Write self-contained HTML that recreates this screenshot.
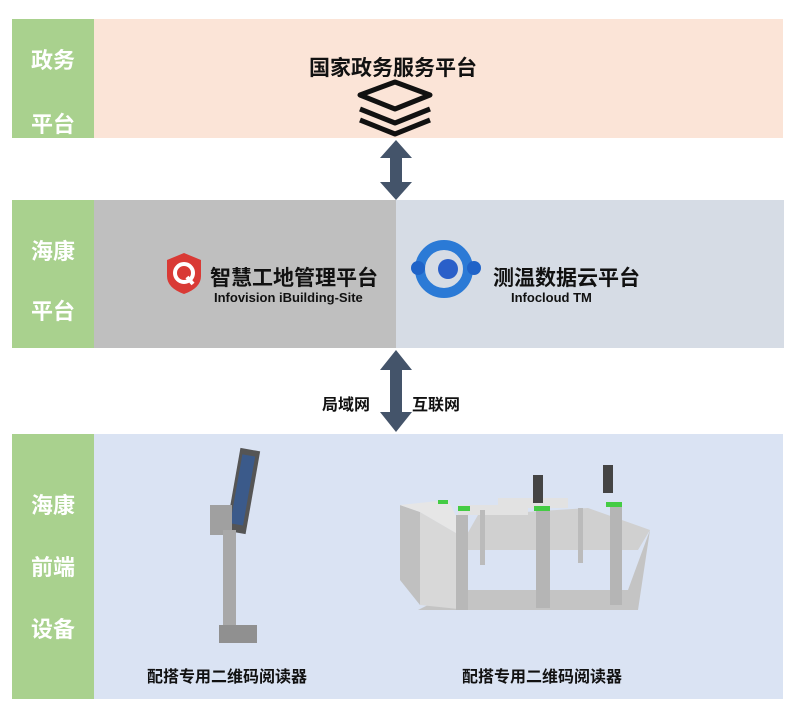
<!DOCTYPE html>
<html><head><meta charset="utf-8"><style>
body{margin:0;width:800px;height:721px;background:#fff;position:relative;overflow:hidden;font-family:"Liberation Sans","Noto Sans CJK SC",sans-serif}
.a{position:absolute}
.lab{position:absolute;left:12px;width:82px;background:#a9d18e;color:#fff;font-weight:bold;font-size:22px;text-align:center}
.lab div{position:absolute;width:100%}
.t{position:absolute;font-weight:bold;color:#111;white-space:nowrap}
</style></head><body>
<div class="a" style="left:12px;top:19px;width:771px;height:119px;background:#fbe4d7"></div>
<div class="lab" style="top:19px;height:119px"><div style="top:24px">政务</div><div style="top:88px">平台</div></div>
<div class="t" style="left:309px;top:52px;font-size:21px">国家政务服务平台</div>
<svg class="a" style="left:352px;top:76px" width="86" height="64"><g fill="none" stroke="#111" stroke-width="5" stroke-linejoin="round"><path d="M43 6 L78 19 L43 33 L8 19 Z"/><path d="M8 33 L43 47 L78 33"/><path d="M8 44 L43 58 L78 44"/></g></svg>
<svg class="a" style="left:378px;top:138px" width="36" height="64"><path d="M18 2 L34 20 L24 20 L24 44 L34 44 L18 62 L2 44 L12 44 L12 20 L2 20 Z" fill="#44546a"/></svg>
<div class="a" style="left:12px;top:200px;width:384px;height:148px;background:#bfbfbf"></div>
<div class="a" style="left:396px;top:200px;width:388px;height:148px;background:#d6dce5"></div>
<div class="lab" style="top:200px;height:148px"><div style="top:34px">海康</div><div style="top:94px">平台</div></div>
<svg class="a" style="left:163px;top:250px" width="42" height="46"><path d="M21 3 L38 10 L38 26 Q38 38 21 44 Q4 38 4 26 L4 10 Z" fill="#d93a35"/><circle cx="21" cy="23" r="9" fill="none" stroke="#fff" stroke-width="4"/><path d="M24 27 L30 34" stroke="#fff" stroke-width="4"/></svg>
<div class="t" style="left:210px;top:262px;font-size:21px">智慧工地管理平台</div>
<div class="t" style="left:214px;top:290px;font-size:13px">Infovision iBuilding-Site</div>
<svg class="a" style="left:404px;top:236px" width="84" height="64"><circle cx="40" cy="33" r="24" fill="none" stroke="#2b7ad6" stroke-width="10"/><circle cx="44" cy="33" r="10" fill="#2a5fc9"/><circle cx="14" cy="32" r="7" fill="#1f63c8"/><circle cx="70" cy="32" r="7" fill="#1f63c8"/></svg>
<div class="t" style="left:493px;top:262px;font-size:21px">测温数据云平台</div>
<div class="t" style="left:511px;top:290px;font-size:13px">Infocloud TM</div>
<svg class="a" style="left:378px;top:348px" width="36" height="86"><path d="M18 2 L34 22 L24 22 L24 64 L34 64 L18 84 L2 64 L12 64 L12 22 L2 22 Z" fill="#44546a"/></svg>
<div class="t" style="left:322px;top:391px;font-size:16px">局域网</div>
<div class="t" style="left:412px;top:391px;font-size:16px">互联网</div>
<div class="a" style="left:12px;top:434px;width:771px;height:265px;background:#dae3f3"></div>
<div class="lab" style="top:434px;height:265px"><div style="top:54px">海康</div><div style="top:116px">前端</div><div style="top:178px">设备</div></div>
<svg class="a" style="left:205px;top:445px" width="70" height="205">
<rect x="28" y="4" width="20" height="84" fill="#555" transform="rotate(10 38 46)"/><rect x="31" y="10" width="13" height="70" fill="#3b5a8a" transform="rotate(10 38 46)"/>
<rect x="5" y="60" width="22" height="30" fill="#a0a0a0"/>
<rect x="18" y="85" width="13" height="105" fill="#a8a8a8"/>
<rect x="14" y="180" width="38" height="18" fill="#909090"/></svg>
<svg class="a" style="left:398px;top:460px" width="256" height="158">
<polygon points="60,90 240,90 252,70 190,48 80,55" fill="#d0d0d0"/>
<polygon points="20,150 240,150 252,70 230,130 60,130" fill="#c4c4c4"/>
<polygon points="2,45 22,52 22,145 2,120" fill="#c0c0c0"/>
<polygon points="22,52 70,80 70,150 22,145" fill="#d8d8d8"/>
<polygon points="2,45 50,40 70,80 22,52" fill="#e6e6e6"/>
<rect x="60" y="45" width="70" height="10" fill="#e2e2e2"/><rect x="100" y="38" width="70" height="10" fill="#e2e2e2"/>
<rect x="58" y="55" width="12" height="95" fill="#b8b8b8"/><rect x="138" y="48" width="14" height="100" fill="#b5b5b5"/><rect x="212" y="45" width="12" height="100" fill="#b5b5b5"/>
<rect x="82" y="50" width="5" height="55" fill="#bbb"/><rect x="180" y="48" width="5" height="55" fill="#bbb"/>
<rect x="60" y="46" width="12" height="5" fill="#4c4"/><rect x="136" y="46" width="16" height="5" fill="#4c4"/><rect x="208" y="42" width="16" height="5" fill="#4c4"/><rect x="40" y="40" width="10" height="4" fill="#4c4"/>
<rect x="135" y="15" width="10" height="28" fill="#444"/><rect x="205" y="5" width="10" height="28" fill="#444"/>
</svg>
<div class="t" style="left:147px;top:663px;font-size:16px">配搭专用二维码阅读器</div>
<div class="t" style="left:462px;top:663px;font-size:16px">配搭专用二维码阅读器</div>
</body></html>
